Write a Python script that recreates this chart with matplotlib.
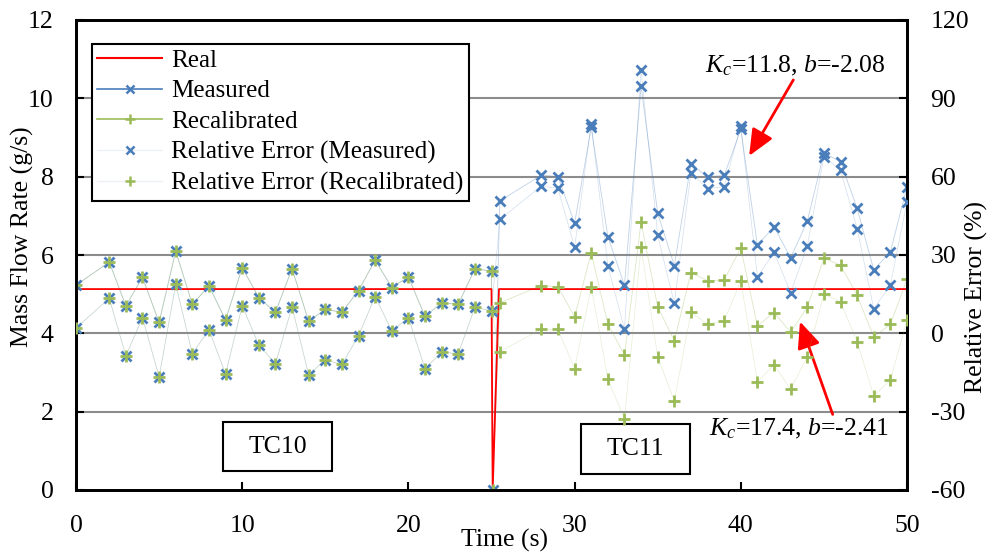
import matplotlib
matplotlib.use('Agg')
import matplotlib.pyplot as plt
from matplotlib.lines import Line2D
from matplotlib.patches import Rectangle

plt.rcParams['font.family'] = ['Liberation Serif', 'DejaVu Serif']
plt.rcParams['mathtext.fontset'] = 'custom'
plt.rcParams['mathtext.rm'] = 'Liberation Serif'
plt.rcParams['mathtext.it'] = 'Liberation Serif:italic'
plt.rcParams['axes.unicode_minus'] = False

# ---------------- data ----------------
real_t = [0, 25, 25.07, 25.45, 50]
real_v = [5.13, 5.13, 0.0, 5.13, 5.13]

# TC10 (recalibrated identical to measured)
t_tc10 = [0, 2, 3, 4, 5, 6, 7, 8, 9, 10, 11, 12, 13, 14, 15, 16, 17, 18, 19, 20, 21, 22, 23, 24, 25]
meas_tc10 = [5.23, 5.82, 4.70, 5.43, 4.28, 6.10, 4.74, 5.21, 4.34, 5.68, 4.91, 4.54, 5.65, 4.31, 4.61,
             4.54, 5.09, 5.87, 5.17, 5.44, 4.43, 4.78, 4.74, 5.65, 5.59]
err_tc10 = [2.0, 13.4, -8.6, 6.0, -16.7, 18.8, -7.8, 1.4, -15.6, 10.5, -4.4, -11.6, 10.1, -15.9, -10.2,
            -11.9, -0.9, 14.1, 0.9, 6.0, -13.5, -7.2, -7.8, 9.9, 8.7]

# transition point
t_gap = [25.07]
v_gap = [0.0]

# TC11
t_tc11 = [25.5, 28, 29, 30, 31, 32, 33, 34, 35, 36, 37, 38, 39, 40, 41, 42, 43, 44, 45, 46, 47, 48, 49, 50]
meas_tc11 = [7.38, 8.04, 8.00, 6.81, 9.26, 6.47, 5.23, 10.31, 7.06, 5.73, 8.32, 8.00, 8.03, 9.21, 6.25,
             6.72, 5.93, 6.86, 8.61, 8.38, 7.19, 5.62, 6.08, 7.74]
err_meas_tc11 = [43.6, 56.4, 55.5, 32.9, 80.1, 25.8, 1.65, 100.7, 37.5, 11.5, 61.5, 55.4, 56.2, 79.4, 21.6,
                 31.0, 15.6, 33.4, 67.6, 62.5, 40.1, 9.4, 18.5, 50.4]
recal_tc11 = [4.78, 5.22, 5.19, 4.42, 6.06, 4.24, 3.45, 6.84, 4.68, 3.81, 5.55, 5.34, 5.36, 6.18, 4.19,
              4.53, 4.03, 4.66, 5.92, 5.74, 4.97, 3.91, 4.23, 5.38]
err_recal_tc11 = [-7.0, 1.6, 1.5, -13.5, 17.9, -17.5, -32.8, 33.2, -9.0, -25.9, 8.0, 3.6, 4.8, 20.1, -18.5,
                  -12.1, -21.4, -9.0, 15.0, 12.1, -3.2, -24.0, -17.9, 5.1]

x_ticks = [0, 10, 20, 30, 40, 50]
y_ticks = [0, 2, 4, 6, 8, 10, 12]
y2_ticks = [-60, -30, 0, 30, 60, 90, 120]

# combined series
t_all = t_tc10 + t_gap + t_tc11
meas_all = meas_tc10 + v_gap + meas_tc11
recal_all = meas_tc10 + v_gap + recal_tc11
t_err = t_tc10 + t_tc11
err_meas_all = err_tc10 + err_meas_tc11
err_recal_all = err_tc10 + err_recal_tc11

BLUE = '#4a7ebb'
GREEN = '#9bbb59'
RED = '#ff0000'
GRAY = '#8c8c8c'
FS = 18.5

fig = plt.figure(figsize=(9.92, 5.53), dpi=100)
ax = fig.add_axes([76 / 992, 1 - 490 / 553, 831 / 992, 470 / 553])
ax2 = ax.twinx()

ax.set_xlim(0, 50)
ax.set_ylim(0, 12)
ax2.set_ylim(-60, 120)

for g in y_ticks[1:-1]:
    ax.axhline(g, color=GRAY, lw=1.5, zorder=0.5)

# data on left axis
ax.plot(real_t, real_v, color=RED, lw=1.3, zorder=3)
ax.plot(t_all, meas_all, color=BLUE, lw=0.6, alpha=0.35, zorder=2)
ax.plot(t_all, recal_all, color=GREEN, lw=0.6, alpha=0.35, zorder=2)
ax.plot(t_all, meas_all, ls='none', marker='x', ms=7, mew=2.0, color=BLUE, zorder=4)
ax.plot(t_all, recal_all, ls='none', marker='+', ms=8, mew=2.0, color=GREEN, zorder=5)

# relative errors on right axis
ax2.plot(t_err, err_meas_all, color=BLUE, lw=0.5, alpha=0.25, zorder=2)
ax2.plot(t_err, err_recal_all, color=GREEN, lw=0.5, alpha=0.25, zorder=2)
ax2.plot(t_err, err_meas_all, ls='none', marker='x', ms=7, mew=2.0, color=BLUE, zorder=4)
ax2.plot(t_err, err_recal_all, ls='none', marker='+', ms=8, mew=2.0, color=GREEN, zorder=5)

ax.set_xticks(x_ticks)
ax.set_yticks(y_ticks)
ax2.set_yticks(y2_ticks)
ax.tick_params(axis='both', direction='in', length=6, width=1.5, labelsize=FS)
ax.tick_params(axis='y', pad=16)
ax.tick_params(axis='x', pad=18)
ax2.tick_params(axis='y', direction='in', length=6, width=1.5, labelsize=FS, pad=17)
for a in (ax, ax2):
    for s in a.spines.values():
        s.set_linewidth(2.0)
        s.set_color('black')

ax.set_xlabel('Time (s)', fontsize=FS)
ax.xaxis.set_label_coords(0.516, -0.082)
ax.set_ylabel('Mass Flow Rate (g/s)', fontsize=FS)
ax.yaxis.set_label_coords(-0.05, 0.538)
ax2.set_ylabel('Relative Error (%)', fontsize=FS)
ax2.yaxis.set_label_coords(1.07, 0.41)

# text boxes
ax.add_patch(Rectangle((8.86, 0.477), 6.54, 1.26, fc='white', ec='black', lw=1.5, zorder=6))
ax.text(12.13, 1.1, 'TC10', fontsize=FS, ha='center', va='center', zorder=7)
ax.add_patch(Rectangle((30.38, 0.41), 6.56, 1.27, fc='white', ec='black', lw=1.5, zorder=6))
ax.text(33.66, 1.04, 'TC11', fontsize=FS, ha='center', va='center', zorder=7)

# annotations (text + separate arrows)
ax.text(43.25, 10.83, '$K_c$=11.8, $b$=-2.08', fontsize=FS, ha='center', va='center', zorder=7)
ax.annotate('', xy=(40.5, 8.53), xytext=(43.16, 10.47),
            arrowprops=dict(arrowstyle='-|>,head_length=0.8,head_width=0.35', color=RED, lw=2,
                            mutation_scale=20, shrinkA=0, shrinkB=0), zorder=7)
ax.text(43.5, 1.56, '$K_c$=17.4, $b$=-2.41', fontsize=FS, ha='center', va='center', zorder=7)
ax.annotate('', xy=(43.56, 4.30), xytext=(45.53, 1.93),
            arrowprops=dict(arrowstyle='-|>,head_length=0.8,head_width=0.35', color=RED, lw=2,
                            mutation_scale=20, shrinkA=0, shrinkB=0), zorder=7)

handles = [
    Line2D([], [], color=RED, lw=1.5),
    Line2D([], [], color=BLUE, lw=1.2, marker='x', ms=6, mew=1.8),
    Line2D([], [], color=GREEN, lw=1.2, marker='+', ms=7, mew=1.8, mec=GREEN),
    Line2D([], [], color='#eef0f6', lw=1.0, marker='x', ms=6, mew=1.8, mec=BLUE),
    Line2D([], [], color='#eef0f6', lw=1.0, marker='+', ms=7, mew=1.8, mec=GREEN),
]
labels = ['Real', 'Measured', 'Recalibrated', 'Relative Error (Measured)', 'Relative Error (Recalibrated)']
leg = ax2.legend(handles, labels, loc='upper left', bbox_to_anchor=(0.019, 0.949), borderaxespad=0,
                 fontsize=18, frameon=True, fancybox=False, edgecolor='black', framealpha=1,
                 handlelength=2.6, handletextpad=0.35, labelspacing=0.32, borderpad=0.22)
leg.get_frame().set_linewidth(1.5)
leg.set_zorder(10)

fig.savefig('out.png', dpi=100)
